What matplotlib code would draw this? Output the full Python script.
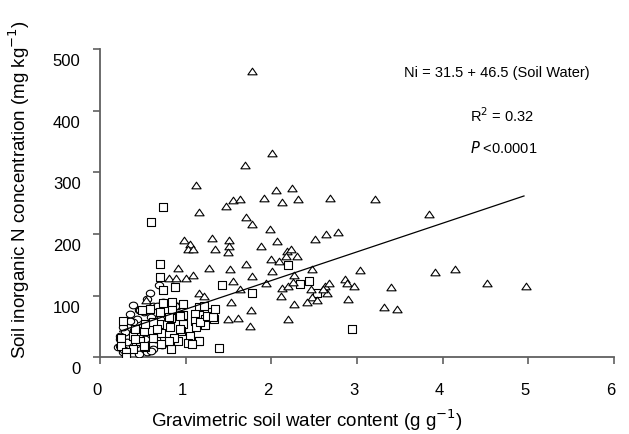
import matplotlib
matplotlib.use("Agg")
import matplotlib.pyplot as plt
from matplotlib.path import Path
from matplotlib.transforms import ScaledTranslation
import numpy as np

plt.rcParams['font.family'] = ['Liberation Sans', 'DejaVu Sans']

# triangles (wettest soils)
tri_x = [1.78, 2.01, 1.69, 1.12, 2.06, 2.24, 1.91, 2.12, 2.31, 2.68, 3.21, 1.55, 1.63,
         1.47, 1.15, 1.71, 1.78, 1.98, 2.64, 2.78, 3.84, 2.51, 2.07, 1.88, 0.98, 1.05,
         1.03, 1.09, 1.31, 1.34, 1.51, 1.51, 1.49, 2.18, 2.23, 2.17, 2.09, 2.00, 2.30,
         1.70, 1.27, 0.91, 1.52, 2.01, 2.48, 3.04, 0.81, 0.89, 1.00, 1.09, 1.77, 2.27,
         1.55, 1.94, 2.12, 2.19, 2.25, 2.46, 2.48, 2.53, 2.63, 2.67, 2.65, 2.60, 2.86,
         2.88, 2.97, 3.40, 3.31, 3.47, 2.90, 2.42, 2.27, 2.11, 1.64, 1.15, 1.21, 1.53,
         0.54, 1.76, 1.50, 1.61, 1.75, 2.20, 3.91, 4.14, 4.52, 4.97]
tri_y = [465, 331, 312, 280, 272, 274, 259, 252, 257, 259, 257, 255, 257,
         246, 236, 227, 217, 208, 200, 203, 232, 192, 188, 180, 190, 183,
         175, 175, 193, 175, 191, 181, 170, 173, 176, 165, 157, 159, 165,
         152, 145, 145, 144, 140, 143, 141, 128, 128, 129, 133, 132, 133,
         123, 120, 113, 116, 122, 111, 98, 93, 116, 120, 105, 111, 127,
         120, 116, 114, 81, 78, 94, 89, 87, 99, 111, 104, 99, 90,
         93, 76, 62, 63, 50, 62, 138, 143, 120, 116]

# squares
sq_x = [0.73, 0.59, 0.70, 0.70, 0.73, 0.88, 1.42, 1.78, 2.20, 2.33, 2.44, 2.53, 2.94,
        1.39, 0.83, 1.14, 1.33, 1.31, 1.16, 1.11, 1.11, 1.12, 1.22, 1.23, 0.97, 0.97,
        0.97, 0.84, 0.83, 0.82, 0.70, 0.69, 0.71, 0.74, 0.84, 0.58, 0.49, 0.27, 0.62,
        0.51, 0.39, 0.95, 1.05, 0.91, 1.03, 0.86, 0.81, 0.62, 0.71, 0.47, 0.53, 0.39,
        0.25, 0.25, 0.30, 0.30, 0.41, 0.53, 0.80, 0.93, 0.93, 1.15, 1.17, 1.25, 1.32,
        1.34, 1.21, 1.07, 0.66, 0.51, 0.41]
sq_y = [243, 219, 152, 131, 109, 114, 117, 105, 150, 119, 123, 105, 46,
        15, 13, 26, 62, 74, 81, 70, 59, 49, 62, 52, 86, 69,
        54, 78, 63, 49, 73, 54, 39, 88, 89, 78, 76, 59, 57,
        43, 35, 43, 35, 27, 24, 32, 27, 32, 22, 27, 16, 13,
        32, 19, 8, 1, 46, 54, 65, 67, 46, 27, 57, 67, 65,
        78, 84, 22, 46, 19, 30]

# circles
ci_x = [0.69, 0.58, 0.45, 0.43, 0.29, 0.23, 0.21, 0.27, 0.45, 0.62, 0.39, 0.51, 0.82,
        0.90, 0.74, 0.62, 0.70, 0.84, 0.88, 0.66, 0.47, 0.35, 0.27, 0.23, 0.23, 0.55,
        0.60, 0.35, 0.40, 0.55, 0.60, 0.50, 0.32, 0.28, 0.65, 0.72, 0.42, 0.38, 0.52]
ci_y = [118, 104, 76, 62, 41, 30, 16, 8, 5, 13, 57, 73, 89,
        84, 89, 84, 62, 90, 84, 84, 76, 59, 49, 35, 19, 8,
        11, 70, 45, 95, 65, 50, 25, 12, 30, 20, 22, 85, 30]

intercept, slope = 31.5, 46.5
fit_range = [0.23, 4.95]

# slightly squashed marker shapes, like the printed figure
tri_marker = Path([(-1, -0.72), (1, -0.72), (0, 0.72), (-1, -0.72)],
                  [Path.MOVETO, Path.LINETO, Path.LINETO, Path.CLOSEPOLY])
t = np.linspace(0, 2 * np.pi, 40)
ell_marker = Path(np.column_stack([np.cos(t), 0.8 * np.sin(t)]), closed=True)

fig = plt.figure(figsize=(6.29, 4.35), dpi=100)
ax = fig.add_axes([0.159, 0.1763, 0.817, 0.7087])

mk = dict(facecolors='white', edgecolors='black', linewidths=0.8, zorder=3)
ax.scatter(ci_x, ci_y, marker=ell_marker, s=36, **mk)
ax.scatter(sq_x, sq_y, marker='s', s=28, **mk)
ax.scatter(tri_x, tri_y, marker=tri_marker, s=44, **mk)

xf = np.array(fit_range)
ax.plot(xf, intercept + slope * xf, color='black', lw=0.9, zorder=4)

ax.set_xlim(0, 6)
ax.set_ylim(0, 500)
ax.set_xticks(range(0, 7))
ax.set_yticks(range(0, 501, 100))
for side in ['top', 'right']:
    ax.spines[side].set_visible(False)
for side in ['left', 'bottom']:
    ax.spines[side].set_color('#606060')
    ax.spines[side].set_linewidth(1.3)
ax.tick_params(direction='out', length=5, width=1.2, color='#606060', labelsize=12)
ax.tick_params(axis='x', pad=13)
ax.tick_params(axis='y', pad=9)

# tick labels sit a bit below their ticks in the original
for lab in ax.get_yticklabels():
    lab.set_transform(lab.get_transform() + ScaledTranslation(0, -0.10, fig.dpi_scale_trans))
for lab in ax.get_xticklabels():
    lab.set_transform(lab.get_transform() + ScaledTranslation(-0.03, 0, fig.dpi_scale_trans))

ax.set_xlabel('Gravimetric soil water content (g g$^{-1}$)', fontsize=13.5)
ax.set_ylabel('Soil inorganic N concentration (mg kg$^{-1}$)', fontsize=13.5)
ax.xaxis.set_label_coords(0.403, -0.158)
ax.yaxis.set_label_coords(-0.132, 0.546)

ax.text(0.772, 0.924, 'Ni = 31.5 + 46.5 (Soil Water)', transform=ax.transAxes,
        ha='center', va='center', fontsize=10.5)
ax.text(0.782, 0.786, 'R$^2$ = 0.32', transform=ax.transAxes,
        ha='center', va='center', fontsize=10.5)
ax.text(0.786, 0.682, '$\\it{P}$ <0.0001', transform=ax.transAxes,
        ha='center', va='center', fontsize=10.5)

fig.savefig('out.png', dpi=100)
